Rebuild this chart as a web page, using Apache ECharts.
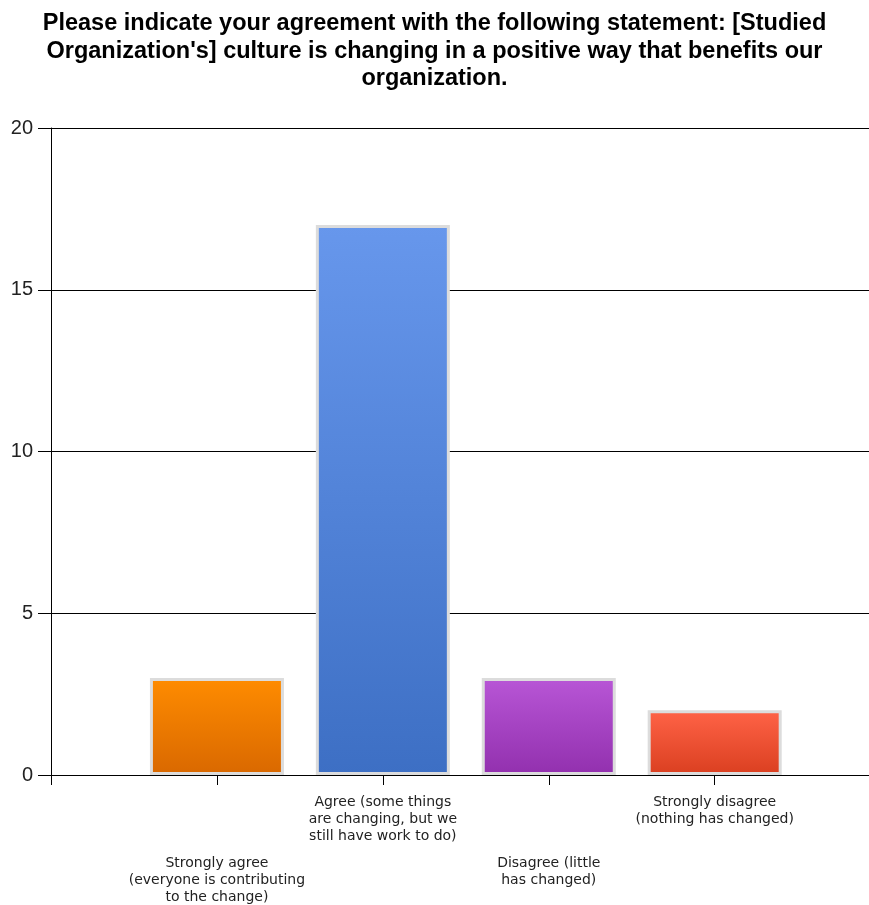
<!DOCTYPE html>
<html><head><meta charset="utf-8">
<script src="https://cdn.jsdelivr.net/npm/echarts@6/dist/echarts.min.js"></script>
<style>html,body{margin:0;padding:0;background:#fff}#c{width:869px;height:905px}</style>
</head><body><div id="c"></div>
<script>
const titleText = "Please indicate your agreement with the following statement: [Studied\nOrganization's] culture is changing in a positive way that benefits our\norganization.";
const categories = [
  "Strongly agree\n(everyone is contributing\nto the change)",
  "Agree (some things\nare changing, but we\nstill have work to do)",
  "Disagree (little\nhas changed)",
  "Strongly disagree\n(nothing has changed)"
];
const values = [3, 17, 3, 2];
const topColors = ["#FF8C00", "#6797EC", "#B856D6", "#FF6347"];
const bottomColors = ["#D96800", "#3D6FC4", "#9230AE", "#DA3F20"];
const yTicks = [0, 5, 10, 15, 20];

const seriesData = values.map((v, i) => ({
  value: [i + 1, v],
  itemStyle: {
    color: {type: 'linear', x: 0, y: 0, x2: 0, y2: 1,
      colorStops: [{offset: 0, color: topColors[i]}, {offset: 1, color: bottomColors[i]}]},
    borderColor: '#DCDCDC', borderWidth: 3
  }
}));

const chart = echarts.init(document.getElementById('c'), null, {renderer: 'canvas'});
chart.setOption({
  animation: false,
  backgroundColor: '#fff',
  title: {
    text: titleText, left: 'center', top: 5,
    textStyle: {fontFamily: 'Liberation Sans', fontWeight: 'bold', fontSize: 23.5, lineHeight: 27.5, color: '#000'}
  },
  grid: {left: 51, right: 0, top: 128, bottom: 130, containLabel: false},
  xAxis: {
    type: 'value', min: 0, max: 4.93, interval: 1,
    axisLine: {onZero: false, lineStyle: {color: '#000', width: 1}},
    axisTick: {show: true, length: 10, lineStyle: {color: '#000'}},
    axisLabel: {
      interval: 0, margin: 19, showMaxLabel: false,
      formatter: function (val) {
        const idx = Math.round(val) - 1;
        if (Math.abs(val - Math.round(val)) > 1e-6 || idx < 0 || idx >= categories.length) return '';
        const lines = categories[idx].split('\n').map(l => '{t|' + l + '}').join('\n');
        return (idx % 2 === 0) ? '{s| }\n' + lines : lines;
      },
      rich: {
        t: {fontFamily: 'DejaVu Sans', fontSize: 14, lineHeight: 17, color: '#222', align: 'center'},
        s: {fontSize: 12, lineHeight: 61}
      }
    },
    splitLine: {show: false}
  },
  yAxis: {
    type: 'value', min: 0, max: 20, interval: 5,
    axisLine: {show: true, lineStyle: {color: '#000'}},
    axisTick: {show: true, length: 13, lineStyle: {color: '#000'}},
    axisLabel: {margin: 18, fontFamily: 'Liberation Sans', fontSize: 20, color: '#222',
      formatter: v => yTicks.indexOf(v) >= 0 ? String(v) : ''},
    splitLine: {show: true, lineStyle: {color: '#000', width: 1}}
  },
  series: [{
    type: 'bar', data: seriesData, barWidth: 134
  }]
});
</script></body></html>
